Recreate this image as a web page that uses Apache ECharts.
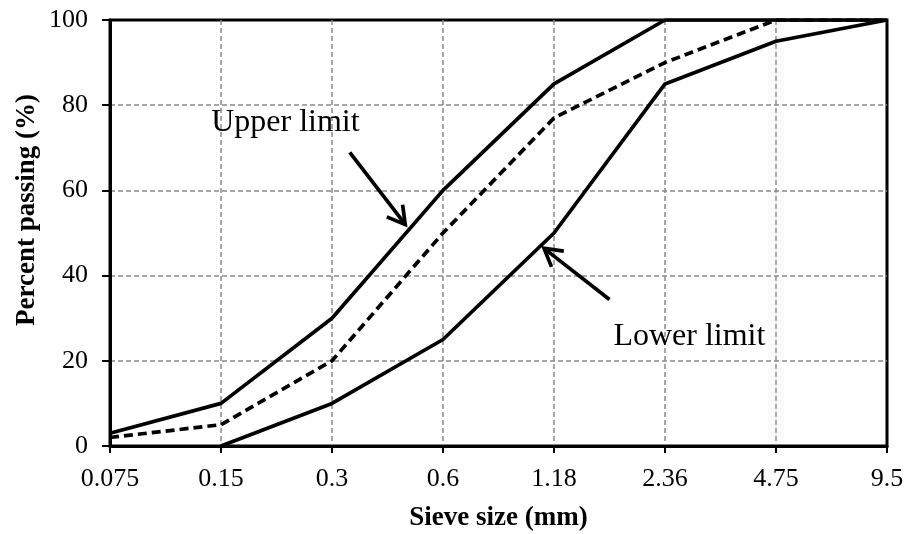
<!DOCTYPE html>
<html>
<head>
<meta charset="utf-8">
<script src="https://cdn.jsdelivr.net/npm/echarts@6/dist/echarts.min.js"></script>
<style>
html,body{margin:0;padding:0;background:#fff;}
#chart{width:907px;height:534px;}
</style>
</head>
<body>
<div id="chart"></div>
<script>
// Data
const categories = ['0.075', '0.15', '0.3', '0.6', '1.18', '2.36', '4.75', '9.5'];
const upperLimit = [3, 10, 30, 60, 85, 100, 100, 100];
const gradation  = [2, 5, 20, 50, 77, 90, 100, 100];
const lowerLimit = [null, 0, 10, 25, 50, 85, 95, 100];
const yTickValues = [0, 20, 40, 60, 80, 100];
const xTitle = 'Sieve size (mm)';
const yTitle = 'Percent passing (%)';
// annotation anchors in data space: [categoryIndex, percent]
const upperLabel = { text: 'Upper limit', at: [1.58, 75.9] };
const lowerLabel = { text: 'Lower limit', at: [5.22, 25.6] };
const upperArrow = { from: [2.16, 68.9], to: [2.66, 52.0] };
const lowerArrow = { from: [4.50, 34.4], to: [3.91, 46.4] };

const FONT = "'Liberation Serif', 'Times New Roman', serif";

const chart = echarts.init(document.getElementById('chart'), null, { renderer: 'canvas' });

function pairs(arr) { return arr.map((v, i) => [i, v]); }

const lineBase = { type: 'line', showSymbol: false, symbol: 'none', connectNulls: false, z: 5, silent: true };
const gridLine = { show: true, showMinLine: false, showMaxLine: false, lineStyle: { color: '#8a8a8a', width: 1.5, type: [5, 3] } };

chart.setOption({
  animation: false,
  backgroundColor: '#fff',
  grid: { left: 110, right: 20, top: 20, bottom: 88, containLabel: false, outerBoundsMode: 'none',
    show: true, borderColor: '#000', borderWidth: 3, backgroundColor: 'transparent' },
  xAxis: {
    type: 'value', min: 0, max: categories.length - 1, interval: 1,
    axisLine: { show: true, lineStyle: { color: '#000', width: 3 } },
    axisTick: { show: true, length: 7, lineStyle: { color: '#000', width: 2 } },
    axisLabel: { color: '#000', fontFamily: FONT, fontSize: 26, margin: 20, formatter: v => categories[Math.round(v)] },
    splitLine: gridLine,
    name: xTitle, nameLocation: 'middle', nameGap: 59,
    nameTextStyle: { color: '#000', fontFamily: FONT, fontSize: 27, fontWeight: 'bold' }
  },
  yAxis: {
    type: 'value', min: 0, max: 100, interval: 20,
    axisLine: { show: true, lineStyle: { color: '#000', width: 3 } },
    axisTick: { show: true, length: 8, lineStyle: { color: '#000', width: 2 } },
    axisLabel: { color: '#000', fontFamily: FONT, fontSize: 26, margin: 22,
      formatter: v => (yTickValues.indexOf(v) >= 0 ? String(v) : '') },
    splitLine: gridLine
  },
  series: [
    Object.assign({}, lineBase, { name: 'Upper limit', data: pairs(upperLimit), lineStyle: { color: '#000', width: 3.7 } }),
    Object.assign({}, lineBase, { name: 'Gradation', data: pairs(gradation), lineStyle: { color: '#000', width: 3.7, type: [9, 5] } }),
    Object.assign({}, lineBase, { name: 'Lower limit', data: pairs(lowerLimit), lineStyle: { color: '#000', width: 3.7 } })
  ]
});

function px(pt) { return chart.convertToPixel({ gridIndex: 0 }, pt); }

function arrowGraphics(a) {
  const p0 = px(a.from), p1 = px(a.to);
  const ang = Math.atan2(p1[1] - p0[1], p1[0] - p0[0]);
  const L = 20, spread = Math.PI / 6;
  const h1 = [p1[0] - L * Math.cos(ang - spread), p1[1] - L * Math.sin(ang - spread)];
  const h2 = [p1[0] - L * Math.cos(ang + spread), p1[1] - L * Math.sin(ang + spread)];
  return [
    { type: 'polyline', z: 20, shape: { points: [p0, p1] }, style: { stroke: '#000', lineWidth: 3.7, fill: null } },
    { type: 'polyline', z: 20, shape: { points: [h1, p1, h2] }, style: { stroke: '#000', lineWidth: 3.7, fill: null, lineJoin: 'miter' } }
  ];
}

function labelGraphic(l) {
  const p = px(l.at);
  return { type: 'text', z: 20, x: p[0], y: p[1],
    style: { text: l.text, font: '32px ' + FONT, fill: '#000', align: 'center', verticalAlign: 'middle' } };
}

const gridTop = px([0, 100])[1], gridBottom = px([0, 0])[1];
chart.setOption({
  graphic: [
    labelGraphic(upperLabel),
    labelGraphic(lowerLabel),
    ...arrowGraphics(upperArrow),
    ...arrowGraphics(lowerArrow),
    { type: 'text', z: 20, x: 27, y: (gridTop + gridBottom) / 2 - 23, rotation: Math.PI / 2,
      style: { text: yTitle, font: 'bold 27px ' + FONT, fill: '#000', align: 'center', verticalAlign: 'middle' } }
  ]
});
</script>
</body>
</html>
